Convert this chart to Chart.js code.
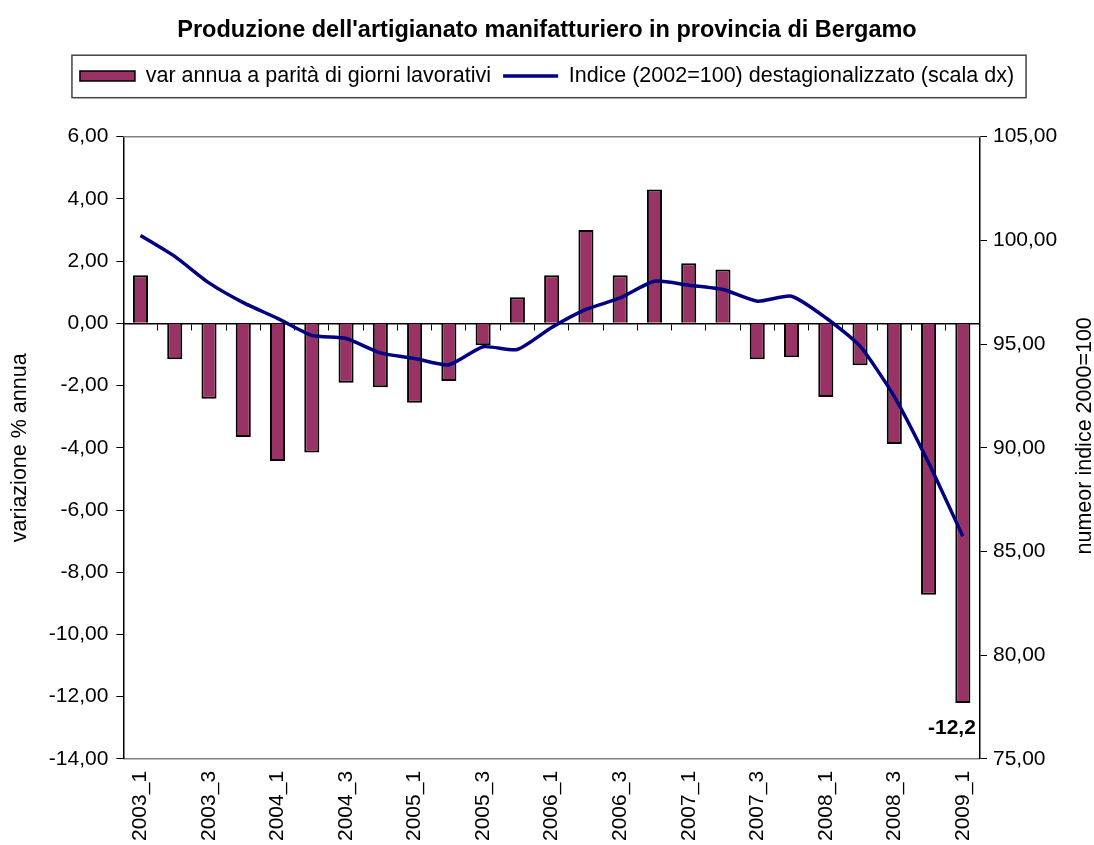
<!DOCTYPE html>
<html>
<head>
<meta charset="utf-8">
<script src="https://cdn.jsdelivr.net/npm/chart.js@4/dist/chart.umd.min.js"></script>
<style>
  html, body { margin: 0; padding: 0; background: #fff; }
  #wrap { width: 1094px; height: 845px; }
</style>
</head>
<body>
<div id="wrap"><canvas id="myChart"></canvas></div>
<script>
// dati trimestrali
const trimestri = ["2003_1","2003_2","2003_3","2003_4","2004_1","2004_2","2004_3","2004_4",
  "2005_1","2005_2","2005_3","2005_4","2006_1","2006_2","2006_3","2006_4",
  "2007_1","2007_2","2007_3","2007_4","2008_1","2008_2","2008_3","2008_4","2009_1"];
const varAnnua = [1.55, -1.15, -2.42, -3.65, -4.42, -4.15, -1.91, -2.05, -2.55, -1.85, -0.70, 0.84,
  1.55, 3.00, 1.55, 4.30, 1.93, 1.73, -1.15, -1.09, -2.37, -1.35, -3.88, -8.72, -12.2];
const indice = [100.24, 99.23, 97.95, 97.00, 96.24, 95.42, 95.27, 94.58, 94.31, 94.00, 94.87, 94.74,
  95.80, 96.67, 97.23, 98.03, 97.84, 97.63, 97.07, 97.31, 96.27, 94.90, 92.47, 89.28, 85.74];
const titolo = "Produzione dell'artigianato manifatturiero in provincia di Bergamo";
const nomeBarre = "var annua a parità di giorni lavorativi";
const nomeLinea = "Indice (2002=100) destagionalizzato (scala dx)";
const titoloSx = "variazione % annua";
const titoloDx = "numeor indice 2000=100";

Chart.defaults.font.family = "'Liberation Sans', Arial, sans-serif";
Chart.defaults.color = "#000";

function virgola(v, d) {
  return Number(v).toFixed(d).replace(".", ",");
}

// spazio sotto la legenda + cornice
const extra = {
  id: "extra",
  beforeInit(chart) {
    const fitOrig = chart.legend.fit;
    chart.legend.fit = function () {
      fitOrig.call(this);
      this.height += 40;
    };
  },
  afterDraw(chart) {
    const ctx = chart.ctx;
    const area = chart.chartArea;
    ctx.save();
    // bordo superiore area grafico
    ctx.strokeStyle = "#808080";
    ctx.lineWidth = 1.5;
    ctx.beginPath();
    ctx.moveTo(area.left, area.top);
    ctx.lineTo(area.right, area.top);
    ctx.stroke();

    // cornice legenda
    const boxes = chart.legend.legendHitBoxes;
    if (boxes.length) {
      let l = Infinity, r = -Infinity, t = Infinity, b = -Infinity;
      boxes.forEach(h => {
        l = Math.min(l, h.left); r = Math.max(r, h.left + h.width);
        t = Math.min(t, h.top); b = Math.max(b, h.top + h.height);
      });
      ctx.strokeStyle = "#444";
      ctx.lineWidth = 1.5;
      ctx.strokeRect(l - 8, t - 10, r - l + 20, b - t + 21);
    }

    // titolo asse destro (dal basso verso l'alto)
    const y1 = chart.scales.y1;
    ctx.font = "21.5px 'Liberation Sans', Arial, sans-serif";
    ctx.fillStyle = "#000";
    ctx.textAlign = "center";
    ctx.textBaseline = "middle";
    ctx.translate(chart.width - 9, (y1.top + y1.bottom) / 2 - 12);
    ctx.rotate(-Math.PI / 2);
    ctx.fillText(titoloDx, 0, 0);
    ctx.restore();

    // etichetta ultimo valore
    const meta = chart.getDatasetMeta(0);
    const last = meta.data.length - 1;
    const el = meta.data[last];
    ctx.save();
    ctx.font = "bold 21px 'Liberation Sans', Arial, sans-serif";
    ctx.fillStyle = "#000";
    ctx.textAlign = "right";
    ctx.textBaseline = "middle";
    ctx.fillText(virgola(varAnnua[last], 1), el.x + 13, el.y + 25);
    ctx.restore();
  }
};

const ctx = document.getElementById("myChart");
const myChart = new Chart(ctx, {
  type: "bar",
  data: {
    labels: trimestri,
    datasets: [{
        type: "bar",
        label: nomeBarre,
        data: varAnnua,
        xAxisID: "x",
        yAxisID: "y",
        backgroundColor: "#993366",
        borderColor: "#000",
        borderWidth: 2,
        barPercentage: 0.44,
        categoryPercentage: 1,
        order: 1
      }, {
        type: "line",
        label: nomeLinea,
        data: indice,
        xAxisID: "x",
        yAxisID: "y1",
        borderColor: "#000080",
        backgroundColor: "#000080",
        borderWidth: 3.5,
        pointRadius: 0,
        tension: 0.2,
        order: 0
      }]
  },
  options: {
    responsive: true,
    maintainAspectRatio: false,
    animation: false,
    layout: { padding: { left: 0, right: 0, top: 0, bottom: -8 } },
    plugins: {
      title: {
        display: true,
        text: titolo,
        font: { size: 23.5, weight: "bold" },
        color: "#000",
        padding: { top: 16, bottom: 9 }
      },
      legend: {
        position: "top",
        labels: {
          usePointStyle: true,
          pointStyleWidth: 55,
          boxHeight: 10,
          padding: 12,
          font: { size: 21.5 },
          color: "#000",
          generateLabels: function (chart) {
            const items = Chart.defaults.plugins.legend.labels.generateLabels(chart);
            items.sort((a, b) => a.datasetIndex - b.datasetIndex);
            items[0].pointStyle = "rect";
            items[0].fillStyle = "#993366";
            items[0].strokeStyle = "#000";
            items[0].lineWidth = 1.5;
            items[1].pointStyle = "line";
            items[1].strokeStyle = "#000080";
            items[1].lineWidth = 3.5;
            return items;
          }
        }
      },
      tooltip: { enabled: false }
    },
    scales: {
      x: {
        type: "category",
        position: "bottom",
        offset: true,
        grid: { display: false, drawTicks: false },
        border: { color: "#808080", width: 1.5 },
        ticks: {
          autoSkip: false,
          minRotation: 90,
          maxRotation: 90,
          padding: 12,
          font: { size: 21 },
          callback: function (value, index) {
            return index % 2 === 0 ? trimestri[index] : "";
          }
        }
      },
      x2: {
        type: "category",
        position: { y: 0 },
        offset: true,
        grid: { offset: true, drawOnChartArea: false, tickLength: 6, color: "#000", lineWidth: 1 },
        border: { color: "#000", width: 1.5 },
        ticks: { display: false }
      },
      y: {
        position: "left",
        min: -14,
        max: 6,
        ticks: {
          stepSize: 2,
          padding: 8,
          font: { size: 21 },
          callback: v => virgola(v, 2)
        },
        grid: { drawOnChartArea: false, tickLength: 7, color: "#000" },
        border: { color: "#000", width: 1.5 },
        title: {
          display: true,
          text: titoloSx,
          font: { size: 21.5 },
          color: "#000",
          padding: { top: 7, bottom: 8 }
        }
      },
      y1: {
        position: "right",
        min: 75,
        max: 105,
        ticks: {
          stepSize: 5,
          padding: 6,
          font: { size: 21 },
          callback: v => virgola(v, 2)
        },
        grid: { drawOnChartArea: false, tickLength: 7, color: "#000" },
        border: { color: "#000", width: 1.5 },
        title: {
          display: true,
          text: titoloDx,
          font: { size: 21.5 },
          color: "rgba(0,0,0,0)",
          padding: { top: 0, bottom: 5 }
        }
      }
    }
  },
  plugins: [extra]
});
</script>
</body>
</html>
